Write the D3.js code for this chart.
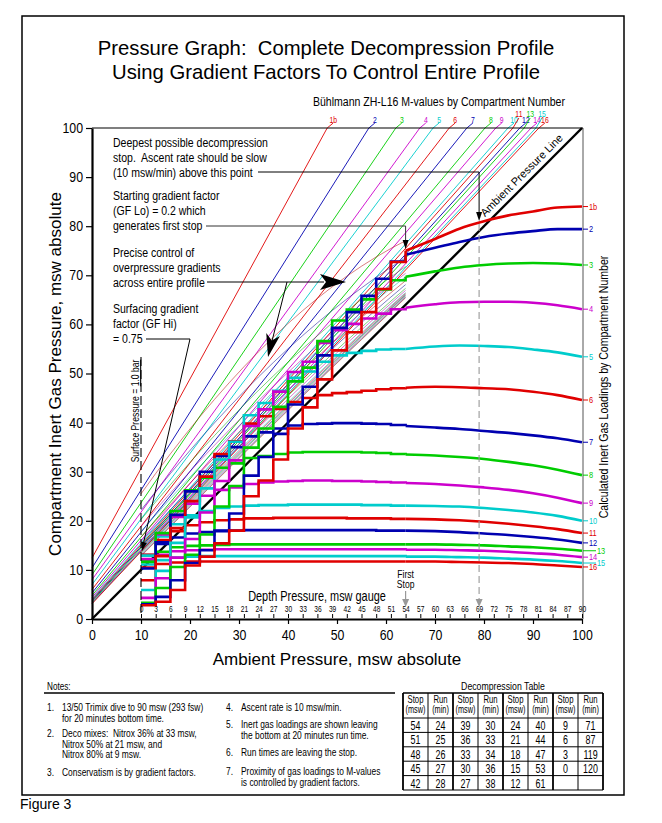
<!DOCTYPE html>
<html><head><meta charset="utf-8">
<script src="https://cdn.jsdelivr.net/npm/d3@7"></script>
<style>
body{margin:0;background:#fff;}
svg text{font-family:"Liberation Sans",Arial,sans-serif;fill:#000;white-space:pre;}
</style></head><body>
<svg id="chart" width="662" height="823"></svg>
<script>
// compartments and Bühlmann M-value lines (value at 0 ambient, ambient where M reaches 100)
const compartments = ["1b","2","3","4","5","6","7","8","9","10","11","12","13","14","15","16"];
const mvIntercept = [12.4,10.4,9.0,8.0,7.0,6.0,5.3,4.8,4.4,4.1,3.9,3.7,3.5,3.3,3.2,3.1];
const mvTopX = [48.0,56.5,62.0,66.9,69.6,72.9,76.5,80.2,82.4,84.9,85.9,87.3,88.2,89.6,90.6,91.2];

// gradient factors (from the annotations)
const gfLo = 0.2, gfHi = 0.75;
const firstStopP = 64, surfaceP = 10;

// inert gas loadings during ascent from bottom to first stop
const ascentP = [100,95,90,85,80,75,70,64];
const ascentLoad = [
  [84.0,83.8,83.0,82.2,81.0,79.5,77.4,75.0],
  [79.4,79.4,79.0,78.5,77.8,76.8,75.6,74.2],
  [72.1,72.4,72.5,72.4,72.1,71.6,70.8,69.7],
  [63.1,63.9,64.4,64.6,64.6,64.5,64.1,63.4],
  [53.4,54.3,54.9,55.4,55.6,55.7,55.5,55.0],
  [44.6,45.6,46.3,46.8,47.0,47.2,47.3,47.1],
  [36.0,36.8,37.4,37.9,38.3,38.7,39.0,39.3],
  [29.3,30.4,31.3,32.0,32.6,33.0,33.3,33.5],
  [23.6,24.7,25.6,26.3,26.8,27.2,27.5,27.7],
  [20.0,21.0,21.7,22.2,22.6,22.9,23.0,23.1],
  [17.5,18.3,18.9,19.4,19.8,20.1,20.3,20.4],
  [15.5,16.2,16.7,17.1,17.4,17.7,17.9,18.0],
  [13.9,14.3,14.6,14.8,15.0,15.1,15.2,15.2],
  [12.6,13.1,13.4,13.7,13.9,14.0,14.1,14.1],
  [11.4,11.8,12.1,12.3,12.5,12.6,12.7,12.7],
  [10.6,10.9,11.2,11.4,11.5,11.6,11.7,11.7]
];

// loadings leaving each stop (msw gauge)
const stopDepths = [54,51,48,45,42,39,36,33,30,27,24,21,18,15,12,9,6,3];
const stopLeave = [
  [72.7,67.2,62.5,58.4,54.7,48.8,43.1,38.8,32.5,28.2,25.0,18.0,15.4,12.7,10.9,5.9,3.5,2.8],
  [72.8,69.3,65.8,62.5,59.3,53.7,47.3,43.7,37.7,33.0,29.2,21.5,18.0,14.0,11.4,7.9,4.5,3.0],
  [69.0,67.1,65.1,63.0,60.8,56.6,51.2,48.4,43.2,38.8,34.9,27.1,22.9,17.2,13.1,10.6,6.3,3.3],
  [63.1,62.2,61.2,60.1,58.8,56.2,52.4,50.3,46.3,42.7,39.3,32.3,28.1,21.7,16.3,12.5,8.3,4.3],
  [55.0,54.9,54.6,54.2,53.7,52.4,50.4,49.1,46.5,44.0,41.5,36.1,32.5,26.6,20.7,15.5,9.8,5.9],
  [47.0,46.8,46.5,46.2,46.0,45.6,45.0,44.2,42.8,41.3,39.8,36.2,33.6,29.0,24.0,18.5,12.8,7.9],
  [39.5,39.7,39.8,39.9,39.9,39.8,39.7,39.4,38.8,38.0,37.2,35.0,33.2,30.0,26.0,21.2,15.6,10.3],
  [33.6,33.8,33.9,34.0,34.0,34.0,34.0,33.9,33.6,33.2,32.8,31.7,30.8,28.8,26.2,22.0,17.5,11.6],
  [27.8,27.9,28.0,28.1,28.1,28.2,28.2,28.1,28.0,27.8,27.5,26.8,26.3,25.1,23.5,20.8,17.2,12.2],
  [23.1,23.2,23.2,23.3,23.3,23.3,23.3,23.3,23.2,23.2,23.1,22.9,22.6,22.0,21.1,19.3,16.8,12.9],
  [20.4,20.5,20.5,20.5,20.6,20.6,20.6,20.6,20.6,20.5,20.5,20.3,20.1,19.7,19.1,17.9,16.1,13.1],
  [18.0,18.0,18.1,18.1,18.1,18.1,18.1,18.1,18.1,18.1,18.1,18.0,17.9,17.7,17.4,16.6,15.3,13.0],
  [15.2,15.2,15.2,15.2,15.2,15.2,15.2,15.2,15.2,15.2,15.2,15.2,15.1,15.0,14.9,14.6,13.7,12.1],
  [14.2,14.2,14.2,14.2,14.2,14.2,14.2,14.2,14.2,14.2,14.2,14.2,14.2,14.1,14.0,13.8,13.1,11.9],
  [12.8,12.8,12.8,12.8,12.8,12.8,12.8,12.8,12.8,12.8,12.8,12.8,12.8,12.8,12.7,12.5,12.0,11.1],
  [11.7,11.7,11.7,11.7,11.7,11.7,11.7,11.7,11.7,11.7,11.7,11.7,11.7,11.7,11.7,11.5,11.2,10.5]
];

// decompression table
const tableStops = [54,51,48,45,42,39,36,33,30,27,24,21,18,15,12,9,6,3,0];
const tableRuns  = [24,25,26,27,28,30,33,34,36,38,40,44,47,53,61,71,87,119,120];

const notesLeft = [
  ["1.", "13/50 Trimix dive to 90 msw (293 fsw)", "for 20 minutes bottom time."],
  ["2.", "Deco mixes:  Nitrox 36% at 33 msw,", "Nitrox 50% at 21 msw, and", "Nitrox 80% at 9 msw."],
  ["3.", "Conservatism is by gradient factors."]
];
const notesRight = [
  ["4.", "Ascent rate is 10 msw/min."],
  ["5.", "Inert gas loadings are shown leaving", "the bottom at 20 minutes run time."],
  ["6.", "Run times are leaving the stop."],
  ["7.", "Proximity of gas loadings to M-values", "is controlled by gradient factors."]
];

const palette = ["#e00000","#0000b0","#00cc00","#cc00cc","#00cccc"];
const color = i => palette[i % 5];
const NARROW = 0.78;

const svg = d3.select("#chart");
svg.append("rect").attr("width",662).attr("height",823).attr("fill","#fff");

// condensed text helper (the figure uses a narrow typeface)
function ntext(g, tx, ty, str, size, opt = {}) {
  const rot = opt.rotate ? ` rotate(${opt.rotate})` : "";
  return g.append("text")
    .attr("transform", `translate(${tx},${ty})${rot} scale(${opt.sx ?? NARROW},1)`)
    .attr("font-size", size)
    .attr("text-anchor", opt.anchor || "start")
    .style("fill", opt.fill || "#000")
    .text(str);
}

// outer frame
svg.append("rect").attr("x",22).attr("y",16).attr("width",602).attr("height",779)
  .attr("fill","none").attr("stroke","#000").attr("stroke-width",1.5);

const x = d3.scaleLinear().domain([0,100]).range([92,582]);
const y = d3.scaleLinear().domain([0,100]).range([619,128]);

// titles
svg.append("text").attr("x",326).attr("y",55).attr("text-anchor","middle")
  .attr("font-size",20.3).text("Pressure Graph:  Complete Decompression Profile");
svg.append("text").attr("x",326).attr("y",79).attr("text-anchor","middle")
  .attr("font-size",20.3).text("Using Gradient Factors To Control Entire Profile");
ntext(svg, 313, 106, "Bühlmann ZH-L16 M-values by Compartment Number", 13.5);

// M-value lines
const mv = svg.append("g");
const mValue = (i, p) => mvIntercept[i] + (100 - mvIntercept[i]) / mvTopX[i] * p;
compartments.forEach((c,i) => {
  mv.append("line")
    .attr("x1",x(0)).attr("y1",y(mvIntercept[i]))
    .attr("x2",x(mvTopX[i])).attr("y2",y(100))
    .attr("stroke",color(i)).attr("stroke-width",0.9);
  const high = (i === 10 || i === 12 || i === 14);
  const lx = x(mvTopX[i]) + 6;
  mv.append("line")
    .attr("x1",x(mvTopX[i])).attr("y1",y(100))
    .attr("x2",lx).attr("y2", high ? 118 : 123)
    .attr("stroke",color(i)).attr("stroke-width",0.9);
  ntext(mv, lx, high ? 116.5 : 122.5, c, 9.5, {anchor:"middle", fill:color(i), sx:0.72});
});

// gradient-factor lines between first stop and surface
const gfPressures = [surfaceP].concat(stopDepths.map(d => d + 10).reverse());
const gfLine = d3.line().x(d => x(d[0])).y(d => y(d[1]));
const gfg = svg.append("g").attr("fill","none").attr("stroke-width",0.6).attr("stroke-opacity",0.85);
compartments.forEach((c,i) => {
  const pts = gfPressures.map(p => {
    const gf = gfHi + (gfLo - gfHi) * (p - surfaceP) / (firstStopP - surfaceP);
    return [p, p + gf * (mValue(i, p) - p)];
  });
  gfg.append("path").attr("d", gfLine(pts)).attr("stroke", d3.color(color(i)).darker(0.6));
});

// plot frame lines
svg.append("line").attr("x1",x(0)).attr("x2",x(100)+1).attr("y1",y(100)).attr("y2",y(100))
  .attr("stroke","#000").attr("stroke-width",1.2);
svg.append("line").attr("x1",x(100)+1).attr("x2",x(100)+1).attr("y1",y(100)).attr("y2",y(0))
  .attr("stroke","#555").attr("stroke-width",1);

// ambient pressure line
svg.append("line").attr("x1",x(0)).attr("y1",y(0)).attr("x2",x(100)).attr("y2",y(100))
  .attr("stroke","#000").attr("stroke-width",2.4);
svg.append("text")
  .attr("transform",`translate(${x(81)-4},${y(81)-4}) rotate(-45)`)
  .attr("font-size",11).text("Ambient Pressure Line");

// loading curves
const curveLine = d3.line().x(d => x(d[0])).y(d => y(d[1])).curve(d3.curveMonotoneX);
const stairLine = d3.line().x(d => x(d[0])).y(d => y(d[1]));
const curves = svg.append("g").attr("fill","none").attr("stroke-width",2.6);
d3.range(compartments.length).reverse().forEach(i => {
  const asc = ascentP.map((p,j) => [p, ascentLoad[i][j]]).reverse();
  curves.append("path").attr("d",curveLine(asc)).attr("stroke",color(i));
  const pts = [[firstStopP, ascentLoad[i][7]]];
  stopDepths.forEach((d,k) => {
    const p = d + 10;
    const next = k < stopDepths.length - 1 ? stopDepths[k+1] + 10 : surfaceP;
    pts.push([p, stopLeave[i][k]]);
    pts.push([next, stopLeave[i][k]]);
  });
  curves.append("path").attr("d",stairLine(pts)).attr("stroke",color(i));
});

// right-hand compartment labels
const rl = svg.append("g");
compartments.forEach((c,i) => {
  const off = (i === 12 || i === 14) ? 8 : 0;
  const yy = y(ascentLoad[i][0]);
  rl.append("line").attr("x1",x(100)+1).attr("x2",x(100)+6+off).attr("y1",yy).attr("y2",yy)
    .attr("stroke",color(i)).attr("stroke-width",1);
  ntext(rl, x(100)+7+off, yy+3.2, c, 9.5, {fill:color(i)});
});
ntext(svg, 608, 387, "Calculated Inert Gas Loadings by Compartment Number", 13.5, {rotate:-90, anchor:"middle"});

// axes
const yAxis = svg.append("g").attr("transform",`translate(${x(0)},0)`)
  .call(d3.axisLeft(y).tickValues(d3.range(0,101,10)).tickSize(6).tickSizeOuter(0));
yAxis.select(".domain").attr("stroke-width",2.2);
yAxis.selectAll(".tick line").attr("stroke-width",1.2);
yAxis.selectAll("text").attr("font-size",14).attr("x",-9/0.88).attr("transform","scale(0.88,1)");

const xAxis = svg.append("g").attr("transform",`translate(0,${y(0)})`)
  .call(d3.axisBottom(x).tickValues(d3.range(0,101,10)).tickSize(5).tickSizeOuter(0));
xAxis.select(".domain").attr("stroke-width",2.2);
xAxis.selectAll(".tick line").attr("stroke-width",1.2);
xAxis.selectAll("text").attr("font-size",14).attr("dy","0.95em").attr("transform","scale(0.88,1)");
svg.selectAll(".tick text").style("font-family",'"Liberation Sans",Arial,sans-serif');

const gauge = d3.scaleLinear().domain([0,90]).range([x(10),x(100)]);
const gAxis = svg.append("g").attr("transform",`translate(0,${y(0)-1})`)
  .call(d3.axisTop(gauge).tickValues(d3.range(0,91,3)).tickSize(4).tickPadding(2));
gAxis.select(".domain").remove();
gAxis.selectAll("text").attr("font-size",8.5).attr("transform","scale(0.78,1)");

ntext(svg, 317, 601, "Depth Pressure, msw gauge", 14, {anchor:"middle"});
svg.append("text").attr("x",337).attr("y",665).attr("text-anchor","middle")
  .attr("font-size",17).text("Ambient Pressure, msw absolute");
svg.append("text").attr("transform","translate(61,374) rotate(-90)")
  .attr("text-anchor","middle").attr("font-size",17).text("Compartment Inert Gas Pressure, msw absolute");

// surface pressure marker
svg.append("line").attr("x1",x(10)).attr("x2",x(10)).attr("y1",357).attr("y2",614)
  .attr("stroke","#000").attr("stroke-width",1.1).attr("stroke-dasharray","9,4");
ntext(svg, x(10)-2, 411, "", 11, {rotate:-90, anchor:"middle"})
  .html('Surface Pressure = <tspan text-decoration="underline">1.0 bar</tspan>');

// first stop and deepest stop markers
function arrowHead(g, tipX, tipY, ux, uy, len, half, fill) {
  const bx = tipX - ux*len, by = tipY - uy*len;
  g.append("path").attr("d",
    `M${tipX},${tipY}L${bx - uy*half},${by + ux*half}L${bx + uy*half},${by - ux*half}Z`)
    .attr("fill",fill).attr("stroke","none");
}
const ann = svg.append("g");
ntext(ann, x(64), 578, "First", 11, {anchor:"middle"});
ntext(ann, x(64), 588, "Stop", 11, {anchor:"middle"});
ann.append("line").attr("x1",x(64)).attr("x2",x(64)).attr("y1",591).attr("y2",600).attr("stroke","#999").attr("stroke-width",1.2);
arrowHead(ann, x(64), 607, 0, 1, 8, 3.5, "#999");
ann.append("line").attr("x1",x(79)).attr("x2",x(79)).attr("y1",224).attr("y2",600)
  .attr("stroke","#999").attr("stroke-width",1.1).attr("stroke-dasharray","7,4");
arrowHead(ann, x(79), 607, 0, 1, 8, 3.5, "#999");

// annotations
const annText = (lines, y0) => lines.forEach((t,k) => ntext(ann, 113, y0 + k*15, t, 13.5));
annText(["Deepest possible decompression","stop.  Ascent rate should be slow","(10 msw/min) above this point"], 147);
annText(["Starting gradient factor","(GF Lo) = 0.2 which","generates first stop"], 200);
annText(["Precise control of","overpressure gradients","across entire profile"], 257);
annText(["Surfacing gradient","factor (GF Hi)","= 0.75"], 313);

ann.append("path").attr("d",`M258,172H${x(79)}V213`).attr("fill","none").attr("stroke","#000").attr("stroke-width",1);
arrowHead(ann, x(79), 221, 0, 1, 9, 3, "#000");
ann.append("path").attr("d",`M206,226H${x(64)}V241`).attr("fill","none").attr("stroke","#333").attr("stroke-width",1);
arrowHead(ann, x(64), 249, 0, 1, 9, 3, "#000");
ann.append("path").attr("d","M207,282H324").attr("fill","none").attr("stroke","#000").attr("stroke-width",1);
ann.append("path").attr("d","M320,274L346,282L320,290L326,282Z").attr("fill","#000");
ann.append("path").attr("d","M287,282L272,341").attr("fill","none").attr("stroke","#000").attr("stroke-width",1);
{
  const tx = 268, ty = 357, ux = -0.221, uy = 0.975;
  const bx = tx - ux*23, by = ty - uy*23, nx = tx - ux*17, ny = ty - uy*17;
  ann.append("path").attr("d",
    `M${tx},${ty}L${bx - uy*7},${by + ux*7}L${nx},${ny}L${bx + uy*7},${by - ux*7}Z`).attr("fill","#000");
}
ann.append("path").attr("d","M146,339H190L143.5,543").attr("fill","none").attr("stroke","#000").attr("stroke-width",1);
arrowHead(ann, 142, 551, -0.22, 0.975, 9, 3, "#000");

// notes
ntext(svg, 47, 690, "Notes:", 10.5);
svg.append("line").attr("x1",44).attr("x2",395).attr("y1",693).attr("y2",693).attr("stroke","#000").attr("stroke-width",1.5);
function drawNotes(list, nx, tops) {
  list.forEach((n,k) => {
    ntext(svg, nx, tops[k], n[0], 10.8);
    n.slice(1).forEach((t,j) => ntext(svg, nx+15, tops[k] + j*10.6, t, 10.8));
  });
}
drawNotes(notesLeft, 47, [711, 737, 776]);
drawNotes(notesRight, 226, [711, 728, 756, 775]);

// decompression table
ntext(svg, 503, 690, "Decompression Table", 11.5, {anchor:"middle", sx:0.76});
const tb = svg.append("g");
const tX = 403, tW = 25, tTop = 693, tHead = 718, tRow = 14.4;
for (let c = 0; c < 8; c++) {
  const cx = tX + c*tW + tW/2;
  ntext(tb, cx, tTop+9.5, c % 2 === 0 ? "Stop" : "Run", 10.2, {anchor:"middle", sx:0.76});
  ntext(tb, cx, tTop+20, c % 2 === 0 ? "(msw)" : "(min)", 10.2, {anchor:"middle", sx:0.72});
}
tableStops.forEach((s,k) => {
  const col = Math.floor(k/5), row = k % 5;
  const cy = tHead + row*tRow + tRow/2 + 4.8;
  ntext(tb, tX + col*2*tW + tW/2, cy, String(s), 13.5, {anchor:"middle", sx:0.66});
  ntext(tb, tX + (col*2+1)*tW + tW/2, cy, String(tableRuns[k]), 13.5, {anchor:"middle", sx:0.66});
});
const tBottom = tHead + 5*tRow;
for (let c = 0; c <= 8; c++) {
  tb.append("line").attr("x1",tX+c*tW).attr("x2",tX+c*tW).attr("y1",tTop).attr("y2",tBottom)
    .attr("stroke","#000").attr("stroke-width", c % 2 === 0 ? 1.8 : 1);
}
for (let r = 0; r <= 5; r++) {
  const yy = tHead + r*tRow;
  tb.append("line").attr("x1",tX).attr("x2",tX+8*tW).attr("y1",yy).attr("y2",yy)
    .attr("stroke","#000").attr("stroke-width",1);
}
tb.append("line").attr("x1",tX).attr("x2",tX+8*tW).attr("y1",tTop).attr("y2",tTop).attr("stroke","#000").attr("stroke-width",1.5);

svg.append("text").attr("x",20).attr("y",809).attr("font-size",14).text("Figure 3");
</script></body></html>
